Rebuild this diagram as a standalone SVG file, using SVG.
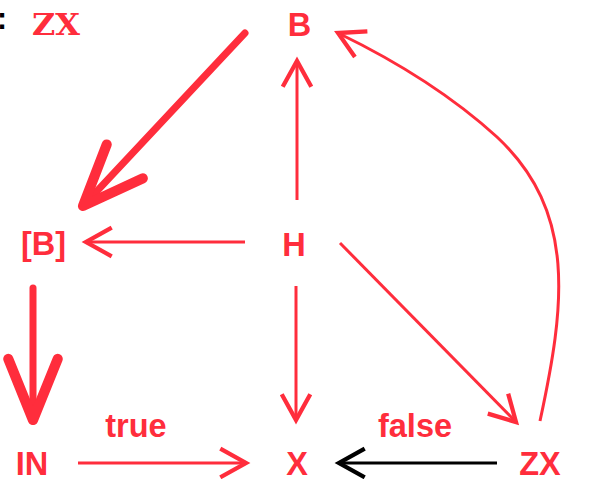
<svg xmlns="http://www.w3.org/2000/svg" width="601" height="479" viewBox="0 0 601 479">
<defs>
<style>
.lbl{font-family:"Liberation Sans",Arial,sans-serif;font-weight:bold;font-size:32.5px;fill:#ff2d3c;text-anchor:middle}
.mono{font-family:"DejaVu Serif","Liberation Mono",serif;font-weight:bold;font-size:30px;fill:#ff2d3c}
.e{fill:none;stroke:#ff2d3c;stroke-width:3}
.thick{fill:none;stroke:#ff2d3c;stroke-width:7;stroke-linecap:round}
.blk{fill:none;stroke:#000;stroke-width:3}
</style>
<marker id="ah" markerUnits="userSpaceOnUse" orient="auto" markerWidth="40" markerHeight="40" refX="0" refY="0" viewBox="-22 -14 26 28" overflow="visible">
<path d="M-18,-10 L0,0 L-18,10" fill="none" stroke="#ff2d3c" stroke-width="3"/>
</marker>
<marker id="ahk" markerUnits="userSpaceOnUse" orient="auto" markerWidth="40" markerHeight="40" refX="0" refY="0" viewBox="-22 -14 26 28" overflow="visible">
<path d="M-18,-10 L0,0 L-18,10" fill="none" stroke="#000" stroke-width="3"/>
</marker>
<marker id="aht" markerUnits="userSpaceOnUse" orient="auto" markerWidth="80" markerHeight="80" refX="0" refY="0" viewBox="-50 -25 55 50" overflow="visible">
<path d="M-42,-17 L0,0 L-42,17" fill="none" stroke="#ff2d3c" stroke-width="7" stroke-linecap="round" stroke-linejoin="round"/>
</marker>
</defs>
<rect width="601" height="479" fill="#fff"/>
<g id="connectors">
<path class="thick" d="M245,33 L83,206" marker-end="url(#aht)"/>
<path class="thick" d="M33,288 L33,420" marker-end="url(#aht)"/>
<path class="e" d="M297,200 L297,61" marker-end="url(#ah)"/>
<path class="e" d="M245,242 L86,242" marker-end="url(#ah)"/>
<path class="e" d="M296,286 L296,420" marker-end="url(#ah)"/>
<path class="e" d="M340,243 L516,422" marker-end="url(#ah)"/>
<path class="e" d="M540,421 C565,305 577,212 497,137 C452,96 400,63 338,33" marker-end="url(#ah)"/>
<path class="blk" d="M497,463 L339,463" marker-end="url(#ahk)"/>
<path class="e" d="M78,463 L246,463" marker-end="url(#ah)"/>
</g>
<g id="frag"><text x="-7" y="29" font-family="Liberation Mono,monospace" font-weight="bold" font-size="30" fill="#000">:</text></g>
<g id="nZXtop"><text class="mono" x="32" y="35" textLength="48" lengthAdjust="spacingAndGlyphs">ZX</text></g>
<g id="nB"><text class="lbl" x="299.5" y="36">B</text></g>
<g id="nBB"><text class="lbl" x="43.5" y="255">[B]</text></g>
<g id="nH"><text class="lbl" x="294" y="256">H</text></g>
<g id="nIN"><text class="lbl" x="32" y="475">IN</text></g>
<g id="nX"><text class="lbl" x="297" y="475">X</text></g>
<g id="nZX"><text class="lbl" x="540" y="475">ZX</text></g>
<g id="ltrue"><text class="lbl" x="136" y="437">true</text></g>
<g id="lfalse"><text class="lbl" x="415" y="437">false</text></g>
</svg>
